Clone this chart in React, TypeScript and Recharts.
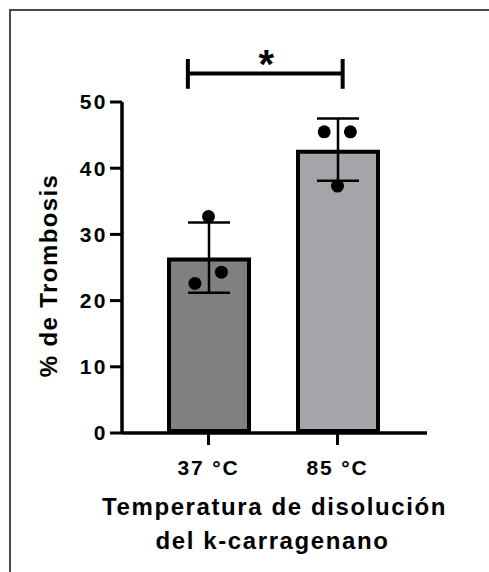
import React from 'react';
import {
  ComposedChart,
  Bar,
  ErrorBar,
  Scatter,
  XAxis,
  YAxis,
  ReferenceLine,
  Rectangle,
  Label,
} from 'recharts';

// groups and summary stats (mean ± SD)
const GROUPS = ['37 °C', '85 °C'];
const MEANS = [26.5, 42.8];
const SDS = [5.3, 4.7];
const BAR_COLORS = ['#808080', '#a4a4a9'];

// individual replicates per group, with horizontal jitter (in group units)
const POINTS_37 = [32.7, 22.6, 24.3];
const POINTS_85 = [45.5, 45.5, 37.3];
const JITTER_37 = [0, -0.105, 0.1];
const JITTER_85 = [-0.103, 0.1, 0];

const Y_TICKS = [0, 10, 20, 30, 40, 50];

// significance bracket between the groups
const SIG_LEVEL = 54.3;
const SIG_FROM = 0.84;
const SIG_TO = 2.04;
const SIG_CAP = [52.0, 56.5];

const FONT = '"Liberation Sans", Arial, sans-serif';

const barData = GROUPS.map((g, i) => ({ group: g, mean: MEANS[i], sd: SDS[i] }));

const pointData = [
  ...POINTS_37.map((v, i) => ({ x: 1 + JITTER_37[i], y: v })),
  ...POINTS_85.map((v, i) => ({ x: 2 + JITTER_85[i], y: v })),
];

// GraphPad draws the bar border inside the bar
const InsetBar = (props: any) => {
  const { x, y, width, height, index } = props;
  const sw = 4;
  return (
    <Rectangle
      x={x + sw / 2}
      y={y + sw / 2}
      width={width - sw}
      height={height - sw}
      fill={BAR_COLORS[index]}
      stroke="#000"
      strokeWidth={sw}
    />
  );
};

const Dot = (props: any) => <circle cx={props.cx} cy={props.cy} r={6.5} fill="#000" />;

const YTitle = ({ viewBox }: any) => {
  const x = viewBox.x + 57;
  const y = viewBox.y + viewBox.height / 2 + 8;
  return (
    <text
      x={x}
      y={y}
      transform={`rotate(-90, ${x}, ${y})`}
      textAnchor="middle"
      fontFamily={FONT}
      fontWeight="bold"
      fontSize={24}
      letterSpacing={1.4}
      fill="#000"
    >
      % de Trombosis
    </text>
  );
};

const XTitle = ({ viewBox }: any) => {
  const cx = viewBox.x + viewBox.width / 2;
  return (
    <text textAnchor="middle" fontFamily={FONT} fontWeight="bold" fontSize={24} letterSpacing={1.6} fill="#000">
      <tspan x={cx} y={viewBox.y + 82}>Temperatura de disolución</tspan>
      <tspan x={cx - 2} y={viewBox.y + 116}>del k-carragenano</tspan>
    </text>
  );
};

const Star = ({ viewBox }: any) => (
  <text
    x={viewBox.x + viewBox.width / 2 + 1}
    y={viewBox.y + 4}
    textAnchor="middle"
    fontFamily={FONT}
    fontWeight="bold"
    fontSize={40}
    fill="#000"
  >
    *
  </text>
);

export default function App() {
  return (
    <div style={{ position: 'absolute', left: 0, top: 0, width: 489, height: 572, background: '#fff' }}>
      <div
        style={{
          position: 'absolute',
          left: 9,
          top: 9,
          right: 0,
          bottom: 0,
          borderTop: '2px solid #4a4a4a',
          borderLeft: '2px solid #4a4a4a',
        }}
      />
      <ComposedChart
        width={489}
        height={572}
        data={barData}
        margin={{ top: 102, right: 62, bottom: 39, left: 0 }}
        style={{ position: 'absolute', left: 0, top: 0 }}
      >
        <XAxis
          dataKey="group"
          padding={{ left: 22, right: 25 }}
          height={100}
          axisLine={{ stroke: '#000', strokeWidth: 3.5 }}
          tickLine={{ stroke: '#000', strokeWidth: 3 }}
          tickSize={12}
          tickMargin={15}
          tick={{ fill: '#000', fontSize: 21, fontWeight: 'bold', fontFamily: FONT, letterSpacing: 1.8 }}
        >
          <Label content={<XTitle />} />
        </XAxis>
        <XAxis
          xAxisId="pts"
          dataKey="x"
          type="number"
          domain={[0.5, 2.5]}
          allowDataOverflow
          padding={{ left: 22, right: 25 }}
          hide
        />
        <YAxis
          domain={[0, 50]}
          ticks={Y_TICKS}
          width={122}
          axisLine={{ stroke: '#000', strokeWidth: 3.5 }}
          tickLine={{ stroke: '#000', strokeWidth: 3 }}
          tickSize={12}
          tick={{ fill: '#000', fontSize: 21, fontWeight: 'bold', fontFamily: FONT, letterSpacing: 2.5 }}
        >
          <Label content={<YTitle />} />
        </YAxis>
        <Bar dataKey="mean" barSize={84} shape={<InsetBar />} isAnimationActive={false}>
          <ErrorBar dataKey="sd" width={21} stroke="#000" strokeWidth={2.5} isAnimationActive={false} />
        </Bar>
        <Scatter data={pointData} dataKey="y" xAxisId="pts" shape={<Dot />} isAnimationActive={false} />
        <ReferenceLine
          xAxisId="pts"
          ifOverflow="visible"
          segment={[{ x: SIG_FROM, y: SIG_LEVEL }, { x: SIG_TO, y: SIG_LEVEL }]}
          stroke="#000"
          strokeWidth={4}
        >
          <Label content={<Star />} />
        </ReferenceLine>
        <ReferenceLine
          xAxisId="pts"
          ifOverflow="visible"
          segment={[{ x: SIG_FROM, y: SIG_CAP[0] }, { x: SIG_FROM, y: SIG_CAP[1] }]}
          stroke="#000"
          strokeWidth={4}
        />
        <ReferenceLine
          xAxisId="pts"
          ifOverflow="visible"
          segment={[{ x: SIG_TO, y: SIG_CAP[0] }, { x: SIG_TO, y: SIG_CAP[1] }]}
          stroke="#000"
          strokeWidth={4}
        />
      </ComposedChart>
    </div>
  );
}
